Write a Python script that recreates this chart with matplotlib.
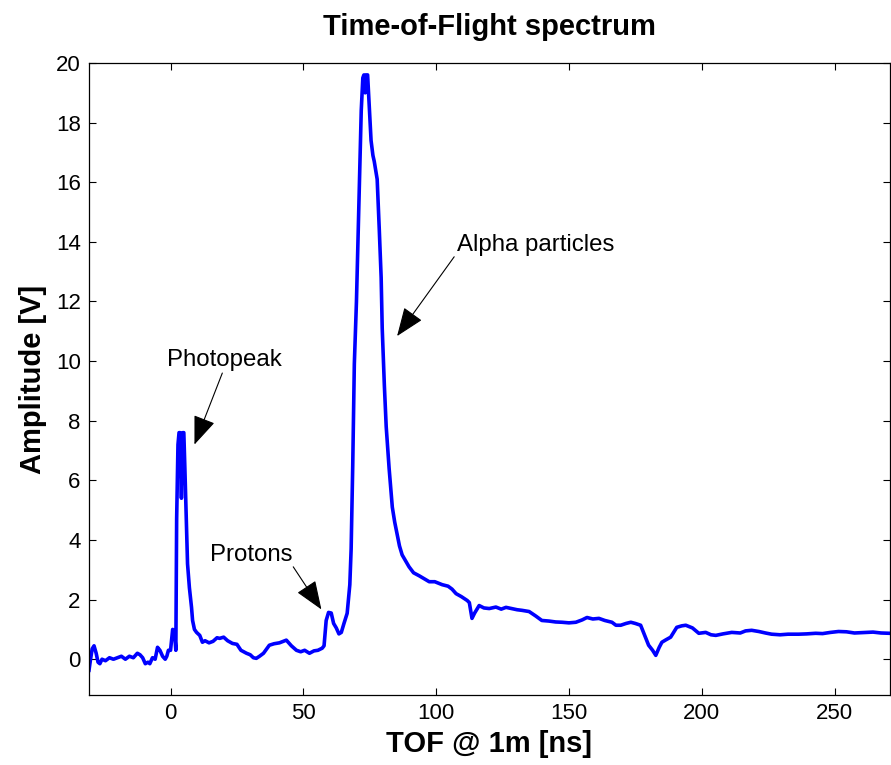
import numpy as np
import matplotlib.pyplot as plt

plt.rcParams['font.family'] = ['Liberation Sans', 'DejaVu Sans']

# TOF spectrum
tof = [-30.7, -30.2, -29.5, -28.8, -28.0, -27.3, -26.6, -25.8, -24.5, -23.0, -21.5,
       -20.0, -18.5, -17.0, -15.5, -14.0, -12.5, -11.5, -10.5, -9.5, -8.5, -7.8,
       -6.8, -5.8, -4.9, -4.0, -3.0, -2.0, -1.4, -0.8, 0.0, 0.8, 1.5, 2.0, 2.3,
       2.8, 3.2, 3.6, 4.1, 4.6, 5.0, 5.4, 6.0, 6.4, 7.1, 7.9, 8.3, 9.0, 9.8, 11.0,
       12.0, 13.0, 14.5, 16.0, 17.5, 18.5, 20.0, 21.5, 23.3, 25.0, 26.5, 28.6,
       30.0, 31.2, 32.3, 33.5, 35.0, 37.2, 39.0, 41.0, 43.6, 45.5, 47.4, 49.0,
       50.5, 52.3, 54.0, 55.5, 57.1, 57.8, 58.6, 59.5, 60.5, 61.4, 62.4, 63.4,
       64.3, 65.3, 66.5, 67.5, 68.0, 68.6, 69.2, 70.0, 71.0, 71.8, 72.4, 72.8,
       73.3, 73.6, 74.2, 74.8, 75.5, 76.2, 76.7, 77.8, 78.6, 79.3, 79.7, 80.5,
       81.2, 82.3, 83.5, 84.4, 85.3, 86.2, 87.2, 88.5, 89.8, 91.5, 93.6, 95.5,
       97.4, 99.5, 102.3, 104.5, 106.0, 107.5, 109.5, 111.7, 112.5, 113.5,
       114.5, 116.2, 118.0, 120.0, 122.5, 124.5, 126.3, 128.5, 130.5, 132.3,
       135.0, 137.5, 139.8, 142.5, 145.0, 147.4, 150.0, 152.6, 155.0, 156.8,
       159.0, 161.3, 163.5, 166.2, 167.7, 169.5, 171.5, 173.3, 175.0, 177.0,
       178.5, 180.0, 181.5, 182.7, 184.0, 185.0, 186.5, 188.3, 190.6, 192.5,
       194.0, 196.5, 198.9, 201.5, 203.5, 205.3, 208.0, 211.3, 214.5, 216.5,
       218.8, 221.5, 224.0, 226.3, 229.5, 232.5, 236.5, 239.5, 242.9, 245.5,
       248.5, 251.5, 254.5, 257.5, 261.7, 264.5, 267.5, 270.7]
amplitude = [-0.37, -0.05, 0.35, 0.45, 0.2, -0.1, -0.15, 0.0, -0.05, 0.05, 0.0,
             0.05, 0.1, 0.0, 0.1, 0.05, 0.2, 0.15, 0.05, -0.15, -0.1, -0.15,
             0.05, 0.0, 0.4, 0.3, 0.1, 0.0, 0.1, 0.3, 0.3, 1.0, 0.9, 0.3, 4.7,
             7.2, 7.6, 7.6, 5.4, 7.6, 7.6, 6.4, 4.4, 3.2, 2.4, 1.74, 1.3, 1.0,
             0.9, 0.8, 0.57, 0.62, 0.55, 0.6, 0.72, 0.7, 0.74, 0.62, 0.53, 0.5,
             0.3, 0.2, 0.15, 0.05, 0.03, 0.1, 0.2, 0.47, 0.52, 0.55, 0.64, 0.45,
             0.3, 0.25, 0.3, 0.2, 0.28, 0.3, 0.37, 0.45, 1.3, 1.57, 1.55, 1.2,
             1.05, 0.85, 0.9, 1.2, 1.54, 2.5, 3.7, 6.5, 9.9, 12.0, 15.6, 18.4,
             19.5, 19.6, 19.0, 19.6, 19.6, 18.6, 17.4, 16.9, 16.7, 16.1, 14.4,
             12.8, 11.1, 9.2, 7.8, 6.4, 5.1, 4.6, 4.2, 3.8, 3.5, 3.3, 3.1, 2.9,
             2.8, 2.7, 2.6, 2.6, 2.5, 2.45, 2.35, 2.2, 2.1, 1.97, 1.9, 1.37,
             1.55, 1.8, 1.72, 1.7, 1.75, 1.68, 1.74, 1.7, 1.66, 1.64, 1.6, 1.45,
             1.3, 1.28, 1.25, 1.24, 1.22, 1.24, 1.32, 1.4, 1.35, 1.37, 1.3, 1.24,
             1.14, 1.14, 1.2, 1.24, 1.2, 1.14, 0.8, 0.47, 0.3, 0.13, 0.4, 0.57,
             0.65, 0.74, 1.07, 1.12, 1.14, 1.05, 0.87, 0.9, 0.82, 0.8, 0.85, 0.9,
             0.88, 0.95, 0.97, 0.93, 0.88, 0.84, 0.82, 0.84, 0.84, 0.85, 0.87,
             0.86, 0.9, 0.93, 0.92, 0.88, 0.9, 0.91, 0.88, 0.87]

fig = plt.figure(figsize=(8.91, 7.65), dpi=100)
ax = fig.add_axes([89 / 891, 70 / 765, 800.5 / 891, 632 / 765])

ax.plot(tof, amplitude, color='#0000ff', lw=2.6)

ax.set_xlim(-30.7, 270.7)
ax.set_ylim(-1.2, 20)
ax.set_xticks(np.arange(0, 251, 50))
ax.set_yticks(np.arange(0, 21, 2))
ax.tick_params(direction='in', length=5, width=0.8, top=True, right=True,
               labelsize=16, pad=6)
for s in ax.spines.values():
    s.set_linewidth(0.9)

ax.set_title('Time-of-Flight spectrum', fontsize=21, fontweight='bold', pad=20)
ax.set_xlabel('TOF @ 1m [ns]', fontsize=21, fontweight='bold')
ax.set_ylabel('Amplitude [V]', fontsize=21, fontweight='bold')
ax.xaxis.set_label_coords(0.5, -0.056)
ax.yaxis.set_label_coords(-0.053, 0.5)

arrow = dict(arrowstyle='-|>,head_length=0.9,head_width=0.35', color='black',
             lw=0.8, mutation_scale=20, shrinkA=0, shrinkB=0)
ax.annotate('', xy=(9.0, 7.2), xytext=(19.5, 9.6), arrowprops=arrow)
ax.annotate('', xy=(56.8, 1.67), xytext=(46.2, 3.1), arrowprops=arrow)
ax.annotate('', xy=(85.3, 10.84), xytext=(106.8, 13.5), arrowprops=arrow)
ax.text(-1.5, 9.83, 'Photopeak', fontsize=17.3, va='baseline', ha='left')
ax.text(14.7, 3.31, 'Protons', fontsize=17.3, va='baseline', ha='left')
ax.text(107.9, 13.68, 'Alpha particles', fontsize=17.3, va='baseline', ha='left')

fig.savefig('out.png', dpi=100)
